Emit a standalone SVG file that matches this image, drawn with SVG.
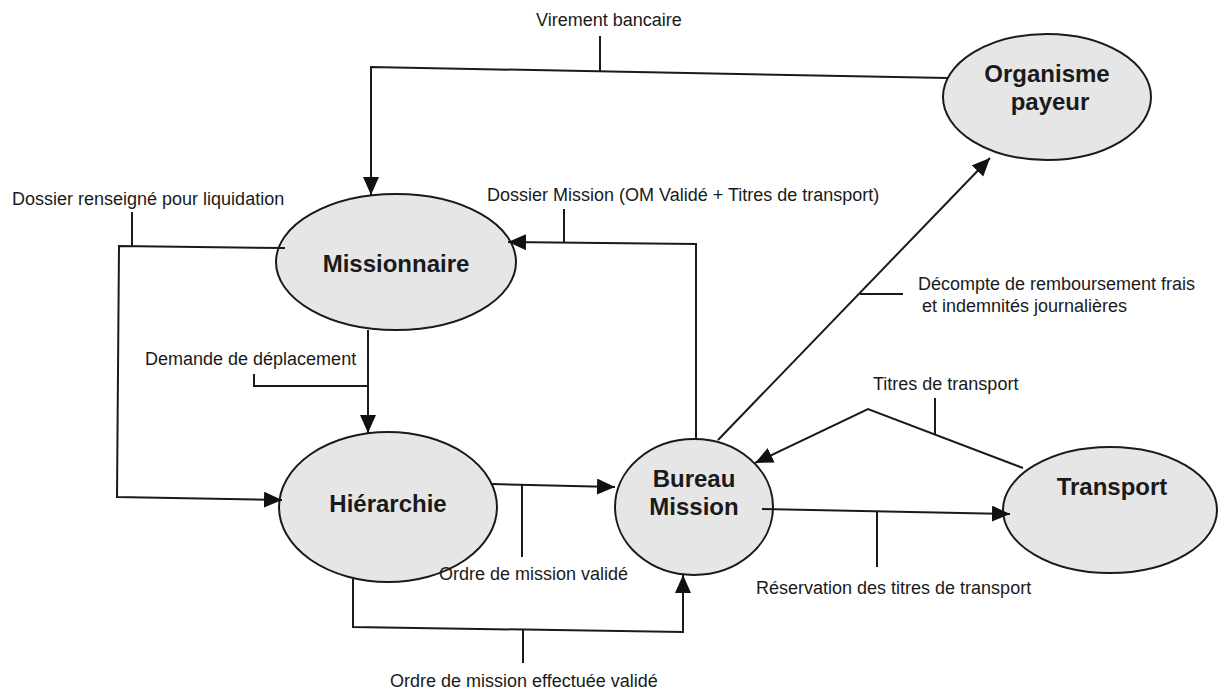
<svg xmlns="http://www.w3.org/2000/svg" width="1218" height="693" viewBox="0 0 1218 693">
<defs>
<marker id="arr" markerUnits="userSpaceOnUse" markerWidth="20" markerHeight="18" refX="18" refY="8" orient="auto">
<path d="M0,0 L18,8 L0,16 Z" fill="#111"/>
</marker>
<style>
.node{fill:#e6e6e6;stroke:#1a1a1a;stroke-width:2}
.nt{font-family:"Liberation Sans",Arial,sans-serif;font-weight:bold;font-size:24px;fill:#1a1a1a;text-anchor:middle}
.lbl{font-family:"Liberation Sans",Arial,sans-serif;font-size:18px;fill:#1a1a1a}
.c{fill:none;stroke:#1a1a1a;stroke-width:2}
.a{marker-end:url(#arr)}
</style>
</defs>
<rect width="1218" height="693" fill="#ffffff"/>

<g id="organisme">
<ellipse class="node" cx="1047" cy="97" rx="104" ry="63"/>
<text class="nt" x="1047" y="82">Organisme</text>
<text class="nt" x="1050" y="110">payeur</text>
</g>
<g id="missionnaire">
<ellipse class="node" cx="396" cy="262" rx="120" ry="68"/>
<text class="nt" x="396" y="272">Missionnaire</text>
</g>
<g id="hierarchie">
<ellipse class="node" cx="388" cy="507" rx="109" ry="75"/>
<text class="nt" x="388" y="512">Hiérarchie</text>
</g>
<g id="bureau">
<ellipse class="node" cx="694" cy="507" rx="79" ry="68"/>
<text class="nt" x="694" y="487">Bureau</text>
<text class="nt" x="694" y="515">Mission</text>
</g>
<g id="transport">
<ellipse class="node" cx="1110" cy="510" rx="107" ry="63"/>
<text class="nt" x="1112" y="495">Transport</text>
</g>

<g id="connectors">
<!-- Virement bancaire -->
<polyline class="c a" points="948,78 371,67 371,195"/>
<line class="c" x1="600" y1="36" x2="600" y2="72"/>
<text class="lbl" x="536" y="26">Virement bancaire</text>

<!-- Dossier renseigné pour liquidation -->
<polyline class="c a" points="285,248 119,246 117,497 282,500"/>
<line class="c" x1="132" y1="212" x2="132" y2="246"/>
<text class="lbl" x="12" y="205">Dossier renseigné pour liquidation</text>

<!-- Dossier Mission -->
<polyline class="c a" points="696,440 696,244 508,242"/>
<line class="c" x1="564" y1="209" x2="564" y2="243"/>
<text class="lbl" x="487" y="201">Dossier Mission (OM Validé + Titres de transport)</text>

<!-- Demande de déplacement -->
<line class="c a" x1="368" y1="330" x2="368" y2="433"/>
<polyline class="c" points="254,374 254,386 368,386"/>
<text class="lbl" x="145" y="365">Demande de déplacement</text>

<!-- Ordre de mission validé -->
<line class="c a" x1="492" y1="484" x2="615" y2="487"/>
<line class="c" x1="522" y1="485" x2="522" y2="557"/>
<text class="lbl" x="439" y="580">Ordre de mission validé</text>

<!-- Ordre de mission effectuée validé -->
<polyline class="c a" points="353,579 353,627 683,632 683,575"/>
<line class="c" x1="523" y1="630" x2="523" y2="663"/>
<text class="lbl" x="390" y="687">Ordre de mission effectuée validé</text>

<!-- Décompte -->
<line class="c a" x1="718" y1="440" x2="990" y2="158"/>
<line class="c" x1="860" y1="294" x2="903" y2="294"/>
<text class="lbl" x="918" y="290">Décompte de remboursement frais</text>
<text class="lbl" x="922" y="312">et indemnités journalières</text>

<!-- Titres de transport -->
<polyline class="c a" points="1023,468 868,409 755,463"/>
<line class="c" x1="935" y1="398" x2="935" y2="434"/>
<text class="lbl" x="873" y="390">Titres de transport</text>

<!-- Réservation des titres de transport -->
<line class="c a" x1="762" y1="509" x2="1010" y2="514"/>
<line class="c" x1="877" y1="512" x2="877" y2="567"/>
<text class="lbl" x="756" y="594">Réservation des titres de transport</text>
</g>
</svg>
